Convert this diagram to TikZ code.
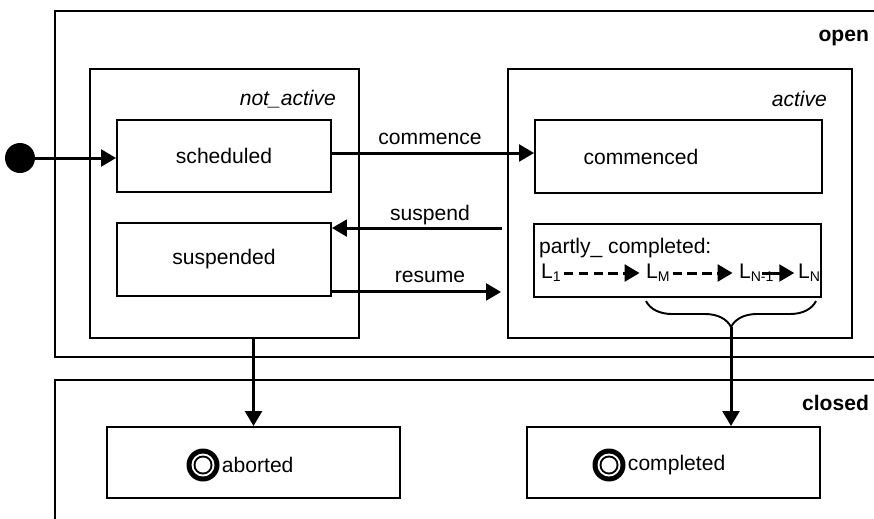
\documentclass[tikz,border=0pt]{standalone}
\usepackage{fontspec}
\setmainfont{Liberation Sans}
\usepackage{tikz}
\usetikzlibrary{arrows.meta}
\usetikzlibrary{decorations.pathreplacing}
\tikzset{>={Triangle[length=8.5pt,width=9.5pt]},
  state/.style={draw, line width=1.1pt, inner sep=0pt,
    font=\fontsize{12}{14}\selectfont},
  lbl/.style={inner sep=1pt, font=\fontsize{12}{14}\selectfont},
  trans/.style={->, line width=1.7pt},
  finalstate/.style={circle, fill=black, minimum size=0.66cm, inner sep=0pt,
    path picture={
      \fill[white] (path picture bounding box.center) circle (0.23cm);
      \fill[black] (path picture bounding box.center) circle (0.19cm);
      \fill[white] (path picture bounding box.center) circle (0.15cm);}}}

\begin{document}
\begin{tikzpicture}[x=0.02cm, y=-0.02cm, line cap=butt]
    \useasboundingbox (0,0) rectangle (874,518);
    \clip (0,0) rectangle (874,518);

    % open / closed regions
    \draw [line width=1.1pt] (890,11) -- (55,11) -- (55,357) -- (890,357);
    \draw [line width=1.1pt] (890,380) -- (55,380) -- (55,530);
    \node [lbl, anchor=east, font=\fontsize{12}{14}\selectfont\bfseries] (open) at (871,38) {open};
    \node [lbl, anchor=east, font=\fontsize{12}{14}\selectfont\bfseries] (closed) at (871,403) {closed};

    % composite states
    \node [state, minimum width=5.38cm, minimum height=5.38cm] (notactive) at (224.5,203.5) {};
    \node [state, minimum width=6.88cm, minimum height=5.38cm] (active) at (680,203.5) {};
    \node [lbl, anchor=east, font=\fontsize{12}{14}\selectfont\itshape] (notactivelbl) at (338,99) {not\_active};
    \node [lbl, anchor=east, font=\fontsize{12}{14}\selectfont\itshape] (activelbl) at (829,99) {active};

    % simple states
    \node [state, minimum width=4.28cm, minimum height=1.44cm] (scheduled) at (224,156) {scheduled};
    \node [state, minimum width=4.28cm, minimum height=1.46cm] (suspended) at (224,259.5) {suspended};
    \node [state, minimum width=5.74cm, minimum height=1.46cm,
      label={[lbl, xshift=-0.75cm]center:commenced}] (commenced) at (678.5,156.5) {};
    \node [state, minimum width=5.74cm, minimum height=1.46cm] (partly) at (677.5,260.5) {};
    \node [state, minimum width=5.86cm, minimum height=1.42cm] (aborted) at (253.5,462.5) {};
    \node [state, minimum width=5.86cm, minimum height=1.42cm] (completed) at (673.5,462.5) {};

    % partly completed contents
    \node [lbl, anchor=west] (partlylbl) at (537,248) {partly\_ completed:};
    \node [lbl, anchor=west] (l1) at (539,273) {L\textsubscript{1}};
    \node [lbl, anchor=west] (lm) at (644,273) {L\textsubscript{M}};
    \node [lbl, anchor=west] (ln1) at (737,273) {L\textsubscript{N-1}};
    \node [lbl, anchor=west] (ln) at (796,273) {L\textsubscript{N}};
    \draw [trans, dashed, dash pattern=on 5.5pt off 3pt, shorten >=2.5pt] (l1.east) -- (lm.west);
    \draw [trans, dashed, dash pattern=on 5.5pt off 3pt, shorten >=2.5pt] (lm.east) -- (ln1.west);
    \draw [trans, shorten <=-8pt, shorten >=1pt] (ln1.east) -- (ln.west);

    % final states
    \node [finalstate] (abortedicon) at (203,465) {};
    \node [lbl, anchor=west] (abortedlbl) at (abortedicon.east) {aborted};
    \node [finalstate] (completedicon) at (609,465) {};
    \node [lbl, anchor=west] (completedlbl) at (completedicon.east) {completed};

    % initial state
    \node [circle, fill=black, minimum size=0.6cm, inner sep=0pt] (init) at (20,158) {};

    % transitions
    \draw [trans] (init) -- (init -| scheduled.west);
    \draw [trans] ([yshift=0.06cm]scheduled.east) -- ([yshift=0.06cm]scheduled.east -| commenced.west);
    \node [lbl] (commencelbl) at (430,139) {commence};

    \coordinate (sp) at ([yshift=-0.12cm]suspended.north east);
    \draw [trans, shorten <=0.1cm] (active.west |- sp) -- (sp);
    \node [lbl] (suspendlbl) at (430,215) {suspend};

    \coordinate (rs) at ([yshift=0.1cm]suspended.south east);
    \draw [trans, shorten >=0.12cm] (rs) -- (rs -| active.west);
    \node [lbl] (resumelbl) at (430,277) {resume};

    \draw [trans] (aborted.north |- notactive.south) -- (aborted.north);

    \draw [line width=1.1pt, decorate, decoration={brace, amplitude=0.52cm}] (816,301) -- (646,301);
    \coordinate (bracetip) at (731,327);
    \draw [trans] (bracetip) -- (bracetip |- completed.north);

\end{tikzpicture}
\end{document}
